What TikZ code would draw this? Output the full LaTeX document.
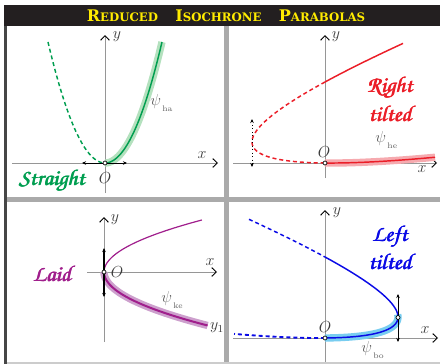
\documentclass[tikz,border=0pt]{standalone}
\usepackage{fontspec}
\newfontfamily\titlefont{DejaVu Serif}
\usetikzlibrary{arrows.meta}
\definecolor{cgreen}{RGB}{0,158,80}
\definecolor{cred}{RGB}{235,30,40}
\definecolor{cpurple}{RGB}{160,30,140}
\definecolor{cblue}{RGB}{10,10,230}
\definecolor{shgreen}{RGB}{180,225,190}
\definecolor{shred}{RGB}{246,170,175}
\definecolor{shpurple}{RGB}{205,160,205}
\definecolor{shblue}{RGB}{120,205,240}
\definecolor{titlebg}{RGB}{35,31,32}
\definecolor{titlefg}{RGB}{255,235,0}
\definecolor{divider}{RGB}{170,170,170}
\definecolor{leftbar}{RGB}{70,70,70}
\definecolor{axisgray}{RGB}{150,150,150}
\definecolor{labelgray}{RGB}{60,60,60}
\definecolor{psigray}{RGB}{95,95,95}
\newcommand\mysc[2]{{\fontsize{12}{12}\selectfont #1}{\fontsize{8.8}{8.8}\selectfont #2}}
\newcommand\scriptfnt{\usefont{OT1}{pzc}{mb}{it}\fontsize{17}{17}\selectfont}
\newcommand\fakebf[1]{\rlap{#1}\hspace{0.3pt}\rlap{#1}\hspace{0.3pt}#1}
\newcommand\psisub[1]{$\psi_{\,\raisebox{-2.2pt}{$\scriptscriptstyle\mathrm{#1}$}}$}
\begin{document}
\begin{tikzpicture}[x=0.75pt,y=-0.75pt,
  axis/.style={draw=axisgray,line width=0.6pt,-{Straight Barb[length=3.4pt,width=6.5pt,color=black,line width=0.7pt]}},
  curve/.style={line width=1.1pt},
  dcurve/.style={line width=1.1pt,dash pattern=on 3pt off 2.2pt},
  shade/.style={line width=5.5pt},
  darrow/.style={line width=0.6pt,{Stealth[length=3pt,width=2.6pt]}-{Stealth[length=3pt,width=2.6pt]}},
  opendot/.style={draw=black,fill=white,line width=0.5pt},
  lbl/.style={text=labelgray,inner sep=0pt,font=\large},
  psilbl/.style={text=psigray,inner sep=0pt,font=\large,anchor=west},
  script/.style={inner sep=0pt,font=\scriptfnt}
]
\useasboundingbox (0,0) rectangle (440,364);
% frame
\fill[titlebg] (4,5) rectangle (440,25.7);
\fill[leftbar] (4,25.7) rectangle (7,364);
\fill[divider] (224,25.7) rectangle (229,364);
\fill[divider] (7,197) rectangle (440,202);
\fill[divider!60] (7,362) rectangle (440,364);
\node[font=\titlefont\bfseries,text=titlefg,inner sep=0pt] (title) at (226,15.5)
  {\mysc{R}{EDUCED}\hspace{13pt}\mysc{I}{SOCHRONE}\hspace{13pt}\mysc{P}{ARABOLAS}};

% ---------- top left: straight ----------
\coordinate (O1) at (105,163);
\coordinate (x1s) at (12,163); \coordinate (x1e) at (218,163);
\coordinate (y1s) at (105,193); \coordinate (y1e) at (105,35);
\draw[axis] (x1s) -- (x1e);
\draw[axis] (y1s) -- (y1e);
\draw[shgreen,shade] plot[domain=0:57,samples=40] ({105+\x},{163-0.03724*\x*\x});
\draw[cgreen,curve] plot[domain=0:57,samples=40] ({105+\x},{163-0.03724*\x*\x});
\draw[cgreen,dcurve] plot[domain=-57:0,samples=40] ({105+\x},{163-0.03724*\x*\x});
\coordinate (h1a) at (82,163); \coordinate (h1b) at (127,163);
\draw[darrow] (h1a) -- (h1b);
\draw[opendot] (O1) circle[radius=1.5pt];
\node[lbl] (ly1) at (117,37) {$y$};
\node[lbl] (lx1) at (202,155) {$x$};
\node[lbl] (lO1) at (105,178) {$O$};
\node[psilbl] (psi1) at (150,103) {\psisub{ha}};
\node[script,text=cgreen] (t1) at (52,181) {\fakebf{Straight}};

% ---------- top right: right tilted ----------
\coordinate (O2) at (325,163);
\coordinate (x2s) at (233,163); \coordinate (x2e) at (437,163);
\coordinate (y2s) at (325,178); \coordinate (y2e) at (325,35);
\draw[axis] (x2s) -- (x2e);
\draw[axis] (y2s) -- (y2e);
\draw[shred,shade] plot[domain=0:0.852,samples=30,variable=\t] ({325+34.247*\t*\t+100*\t},{163-(9.148*\t*\t-1.0274*\t)});
\draw[cred,curve] plot[domain=0:0.852,samples=30,variable=\t] ({325+34.247*\t*\t+100*\t},{163-(9.148*\t*\t-1.0274*\t)});
\draw[cred,dcurve] plot[domain=-2.92:0,samples=80,variable=\t] ({325+34.247*\t*\t+100*\t},{163-(9.148*\t*\t-1.0274*\t)});
\draw[cred,curve] plot[domain=-3.56:-2.92,samples=30,variable=\t] ({325+34.247*\t*\t+100*\t},{163-(9.148*\t*\t-1.0274*\t)});
\coordinate (v2a) at (252,119); \coordinate (v2b) at (252,167);
\draw[darrow,dotted] (v2a) -- (v2b);
\draw[opendot] (O2) circle[radius=1.5pt];
\node[lbl] (ly2) at (336,37) {$y$};
\node[lbl] (lx2) at (422,169) {$x$};
\node[lbl] (lO2) at (324,152) {$O$};
\node[psilbl] (psi2) at (375,140) {\psisub{he}};
\node[script,text=cred] (t2a) at (390,88) {\fakebf{Right}};
\node[script,text=cred] (t2b) at (390,114) {\fakebf{tilted}};

% ---------- bottom left: laid ----------
\coordinate (O3) at (104,272);
\coordinate (x3s) at (87,272); \coordinate (x3e) at (217,272);
\coordinate (y3s) at (104,342); \coordinate (y3e) at (104,217);
\draw[axis] (x3s) -- (x3e);
\draw[axis] (y3s) -- (y3e);
\draw[shpurple,shade] plot[domain=0:-53.5,samples=40] ({104+0.0362*\x*\x},{272-\x});
\draw[cpurple,line width=1.5pt] plot[domain=0:-53.5,samples=40] ({104+0.0362*\x*\x},{272-\x});
\draw[cpurple,line width=0.9pt] plot[domain=0:52,samples=40] ({104+0.0362*\x*\x},{272-\x});
\coordinate (v3a) at (104,248); \coordinate (v3b) at (104,297);
\draw[darrow,line width=0.9pt] (v3a) -- (v3b);
\draw[opendot] (O3) circle[radius=1.5pt];
\node[lbl] (ly3) at (115,220) {$y$};
\node[lbl] (lx3) at (210,262) {$x$};
\node[lbl] (lO3) at (117,272) {$O$};
\node[lbl] (ly13) at (217,328) {$y_1$};
\node[psilbl] (psi3) at (161,300) {\psisub{ke}};
\node[script,text=cpurple] (t3) at (52,274) {\fakebf{Laid}};

% ---------- bottom right: left tilted ----------
\coordinate (O4) at (325,338);
\coordinate (x4s) at (233,338); \coordinate (x4e) at (438,338);
\coordinate (y4s) at (325,362); \coordinate (y4e) at (325,210);
\draw[axis] (x4s) -- (x4e);
\draw[axis] (y4s) -- (y4e);
\draw[shblue,shade] plot[domain=-1.55:0,samples=40,variable=\t] ({325-(34.247*\t*\t+100*\t)},{338-(9.148*\t*\t-1.0274*\t)});
\draw[cblue,curve] plot[domain=-2.92:0,samples=80,variable=\t] ({325-(34.247*\t*\t+100*\t)},{338-(9.148*\t*\t-1.0274*\t)});
\draw[cblue,dcurve] plot[domain=-3.546:-2.92,samples=30,variable=\t] ({325-(34.247*\t*\t+100*\t)},{338-(9.148*\t*\t-1.0274*\t)});
\draw[cblue,dcurve,line width=1.4pt] plot[domain=0:0.728,samples=30,variable=\t] ({325-(34.247*\t*\t+100*\t)},{338-(9.148*\t*\t-1.0274*\t)});
\coordinate (V4) at (398,317.5);
\coordinate (v4a) at (398,294); \coordinate (v4b) at (398,342);
\draw[darrow] (v4a) -- (v4b);
\draw[opendot] (O4) circle[radius=1.5pt];
\draw[opendot] (V4) circle[radius=1.5pt];
\node[lbl] (ly4) at (337,213) {$y$};
\node[lbl] (lx4) at (425,330) {$x$};
\node[lbl] (lO4) at (325,327) {$O$};
\node[psilbl] (psi4) at (361,350) {\psisub{bo}};
\node[script,text=cblue] (t4a) at (390,237) {\fakebf{Left}};
\node[script,text=cblue] (t4b) at (390,262) {\fakebf{tilted}};
\end{tikzpicture}
\end{document}
